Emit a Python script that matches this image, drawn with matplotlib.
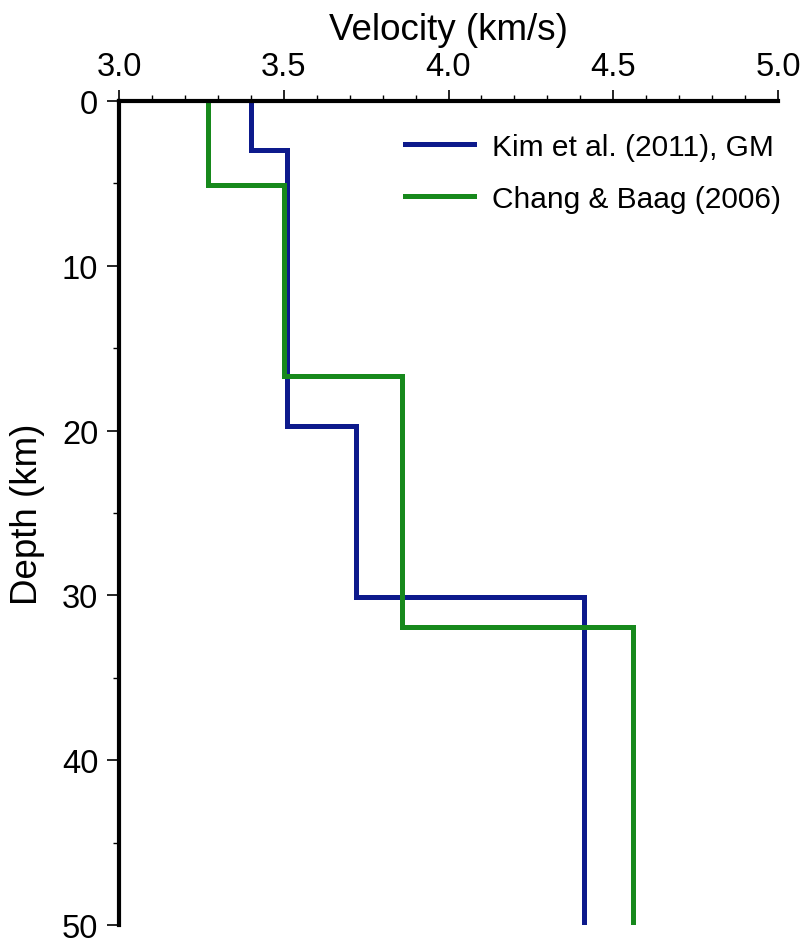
import numpy as np
import matplotlib.pyplot as plt
from matplotlib.ticker import MultipleLocator

plt.rcParams['font.family'] = ['Liberation Sans', 'DejaVu Sans']

# layer model: velocity (km/s) and bottom depth (km) of each layer
kim_vel = [3.40, 3.51, 3.72, 4.41]
kim_base = [3.0, 19.7, 30.1, 50.0]
chang_vel = [3.27, 3.50, 3.86, 4.56]
chang_base = [5.1, 16.7, 31.9, 50.0]

def step_profile(vel, base):
    v, z = [], []
    top = 0.0
    for vi, bi in zip(vel, base):
        v += [vi, vi]
        z += [top, bi]
        top = bi
    return v, z

fig = plt.figure(figsize=(8.06, 9.45), dpi=100)
ax = fig.add_axes([119/806, 1-926/945, (778-119)/806, (926-102)/945])

kv, kz = step_profile(kim_vel, kim_base)
cv, cz = step_profile(chang_vel, chang_base)
ax.plot(kv, kz, color='#0d1a8c', lw=3.6, label='Kim et al. (2011), GM', solid_joinstyle='miter')
ax.plot(cv, cz, color='#17891c', lw=3.6, label='Chang & Baag (2006)', solid_joinstyle='miter')

ax.set_xlim(3.0, 5.0)
ax.set_ylim(50, 0)
ax.xaxis.set_major_locator(MultipleLocator(0.5))
ax.xaxis.set_minor_locator(MultipleLocator(0.1))
ax.yaxis.set_major_locator(MultipleLocator(10))
ax.yaxis.set_minor_locator(MultipleLocator(5))
ax.xaxis.set_major_formatter(lambda x, p: f'{x:.1f}')
ax.xaxis.tick_top()
ax.xaxis.set_label_position('top')

for s in ['right', 'bottom']:
    ax.spines[s].set_visible(False)
for s in ['left', 'top']:
    ax.spines[s].set_linewidth(3)

ax.tick_params(which='major', length=8, width=1.2, labelsize=23.5, pad=6)
ax.tick_params(which='minor', length=4, width=1.0)
ax.tick_params(axis='y', which='major', length=9)

ax.set_xlabel('Velocity (km/s)', fontsize=26.5, labelpad=8)
ax.set_ylabel('Depth (km)', fontsize=26.5, labelpad=12)

ax.legend(loc='upper right', bbox_to_anchor=(1.046, 0.994), frameon=False,
          fontsize=21.5, handlelength=2.3, handletextpad=0.62, labelspacing=0.8)

fig.savefig('out.png', dpi=100)
